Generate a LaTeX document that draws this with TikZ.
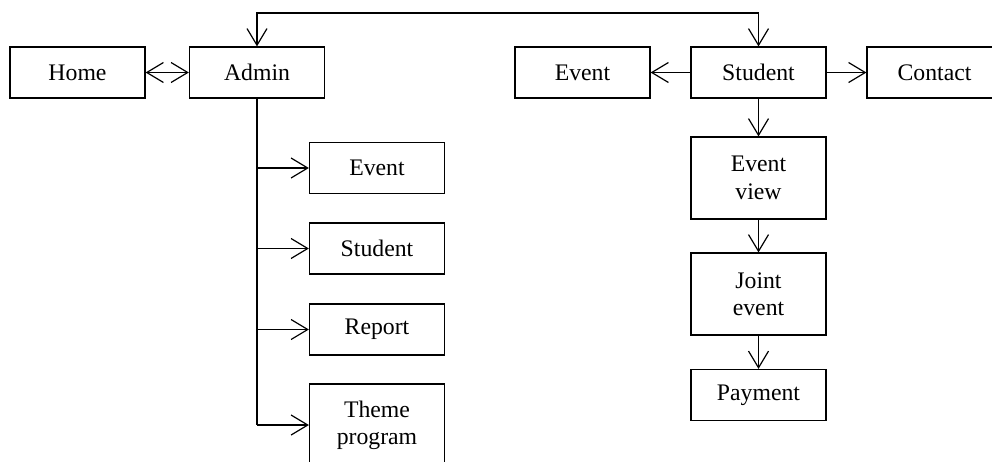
\documentclass[tikz,border=0pt]{standalone}
\usepackage{fontspec}
\setmainfont{Liberation Serif}
\usetikzlibrary{arrows.meta}
\begin{document}
\begin{tikzpicture}[x=0.75pt,y=-0.75pt,
  box/.style={draw,line width=0.9pt,minimum width=101.25pt,minimum height=38.25pt,
    inner sep=0pt,align=center,font=\fontsize{17.8}{20.5}\selectfont},
  tallbox/.style={box,minimum height=61.5pt},
  tip/.tip={Straight Barb[length=12.5pt,width=15pt,line width=0.9pt]},
  conn/.style={line width=0.9pt,-tip},
  both/.style={line width=0.9pt,tip-tip},
  line width=0.9pt]
\useasboundingbox (0,0) rectangle (992,461);
\clip (0,0) rectangle (992,461);
\node[box] (home) at (77.5,72.5) {Home};
\node[box] (admin) at (257,72.5) {Admin};
\node[box] (event) at (582.5,72.5) {Event};
\node[box] (student) at (758.5,72.5) {Student};
\node[box] (contact) at (934.5,72.5) {Contact};
\node[box] (aevent) at (377,168) {Event};
\node[box] (astudent) at (377,248.5) {Student};
\node[box] (areport) at (377,329.5) {Report};
\node[tallbox] (atheme) at (377,425) {Theme\\program};
\node[tallbox] (eview) at (758.5,178) {Event\\view};
\node[tallbox] (joint) at (758.5,294) {Joint\\event};
\node[box] (pay) at (758.5,395) {Payment};
\coordinate (tl) at (257,13);
\coordinate (tr) at (758.5,13);
\coordinate (vb) at (257,425);
\draw[both] (home) -- (admin);
\draw[both] (admin.north) -- (tl) -- (tr) -- (student.north);
\draw[conn] (student) -- (event);
\draw[conn] (student) -- (contact);
\draw[conn] (student) -- (eview);
\draw[conn] (eview) -- (joint);
\draw[conn] (joint) -- (pay);
\draw (admin.south) -- (vb);
\draw[conn] (admin.south |- aevent) -- (aevent.west);
\draw[conn] (admin.south |- astudent) -- (astudent.west);
\draw[conn] (admin.south |- areport) -- (areport.west);
\draw[conn] (vb) -- (atheme.west);
\end{tikzpicture}
\end{document}
